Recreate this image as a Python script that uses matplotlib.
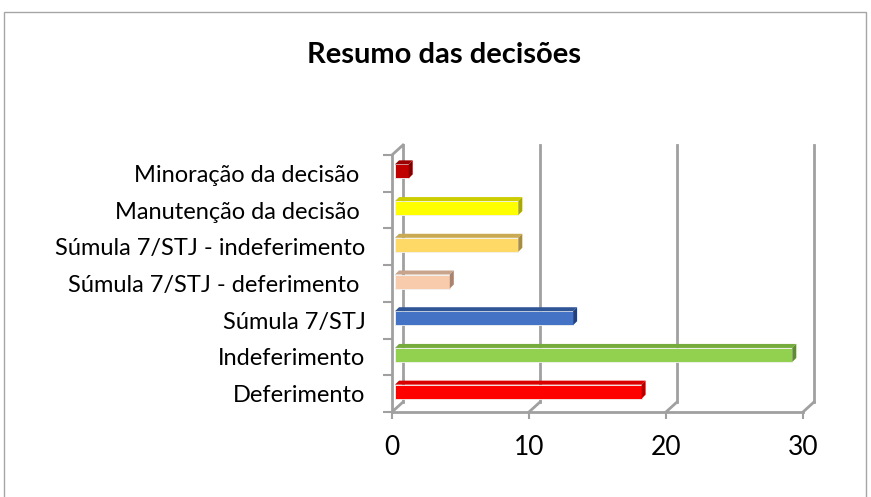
import matplotlib
matplotlib.use("Agg")
import matplotlib.pyplot as plt
from matplotlib.patches import Polygon, Rectangle

# data (bottom to top, as in the chart)
categories = ["Deferimento", "Indeferimento", "Súmula 7/STJ",
              "Súmula 7/STJ - deferimento ", "Súmula 7/STJ - indeferimento",
              "Manutenção da decisão ", "Minoração da decisão "]
values = [18, 29, 13, 4, 9, 9, 1]
front_colors = ["#FF0000", "#92D050", "#4472C4", "#F8CBAD", "#FFD966", "#FFFF00", "#C00000"]
top_colors = ["#D80000", "#76AC3E", "#2F5597", "#C9A48C", "#C9AA52", "#CCCC00", "#9C0000"]
side_colors = ["#B00000", "#5F8C30", "#243F73", "#A88470", "#A88C40", "#A8A800", "#7A0000"]
xticks = [0, 10, 20, 30]

W, H, DPI = 871, 497, 100
fig = plt.figure(figsize=(W / DPI, H / DPI), dpi=DPI)
plt.rcParams['font.family'] = ['Lato', 'DejaVu Sans']

# front plane of the plot in pixels
x0px, x1px, ytop, ybot = 392, 803, 155, 412
ax = fig.add_axes([x0px / W, 1 - ybot / H, (x1px - x0px) / W, (ybot - ytop) / H])
ax.set_xlim(0, 30)
ax.set_ylim(-0.5, len(categories) - 0.5)
for s in ax.spines.values():
    s.set_visible(False)
ax.patch.set_visible(False)

# pixel -> data unit helpers
ppx = (x1px - x0px) / 30.0
ppy = (ybot - ytop) / len(categories)
dX, dY = 11 / ppx, 10 / ppy        # wall depth
gray = "#A0A0A0"
ylo, yhi = -0.5, len(categories) - 0.5

# back wall gridlines and floor diagonals
for xv in xticks:
    ax.plot([xv + dX, xv + dX], [ylo + dY, yhi + dY], color=gray, lw=2, clip_on=False, zorder=1)
    ax.plot([xv, xv + dX], [ylo, ylo + dY], color=gray, lw=2, clip_on=False, zorder=1)
# left wall
ax.plot([0, 0], [ylo, yhi], color=gray, lw=2, clip_on=False, zorder=1)
ax.plot([0, dX], [yhi, yhi + dY], color=gray, lw=2, clip_on=False, zorder=1)
# floor front edge
ax.plot([0, 30], [ylo, ylo], color=gray, lw=2, clip_on=False, zorder=1)

# 3d bars
bh = 14 / ppy          # front face height
bx, by = 3 / ppx, 2 / ppy   # bar position inside the depth
tdx, tdy = 4 / ppx, 4 / ppy  # bar depth
for i, v in enumerate(values):
    yb = i - bh / 2 + by
    xl = bx
    xr = v + bx
    ax.add_patch(Rectangle((xl, yb), v, bh, facecolor=front_colors[i],
                           edgecolor="#F2F2F2", lw=0.6, zorder=3, clip_on=False))
    ax.add_patch(Polygon([(xl, yb + bh), (xr, yb + bh), (xr + tdx, yb + bh + tdy), (xl + tdx, yb + bh + tdy)],
                         closed=True, facecolor=top_colors[i], edgecolor="none", zorder=3, clip_on=False))
    ax.add_patch(Polygon([(xr, yb), (xr + tdx, yb + tdy), (xr + tdx, yb + bh + tdy), (xr, yb + bh)],
                         closed=True, facecolor=side_colors[i], edgecolor="none", zorder=3, clip_on=False))

# ticks and labels
ax.set_xticks(xticks)
ax.set_xticklabels([str(t) for t in xticks])
ax.tick_params(axis="x", length=5, width=1.5, color=gray, pad=11.5, labelsize=19)
ax.set_yticks(range(len(categories)))
ax.set_yticklabels(categories)
ax.tick_params(axis="y", which="major", length=0, pad=19, labelsize=17)
ax.set_yticks([k - 0.5 for k in range(len(categories) + 1)], minor=True)
ax.tick_params(axis="y", which="minor", length=6.5, width=1.5, color=gray)

fig.text(444 / W, 1 - 55 / H, "Resumo das decisões", ha="center", va="center",
         fontsize=21, fontweight="bold")

# chart area border
fig.add_artist(Rectangle((4 / W, -0.01), 862 / W, 1 - 12 / H + 0.01, transform=fig.transFigure,
                         fill=False, edgecolor="#A6A6A6", lw=1))

fig.savefig("out.png", dpi=DPI)
